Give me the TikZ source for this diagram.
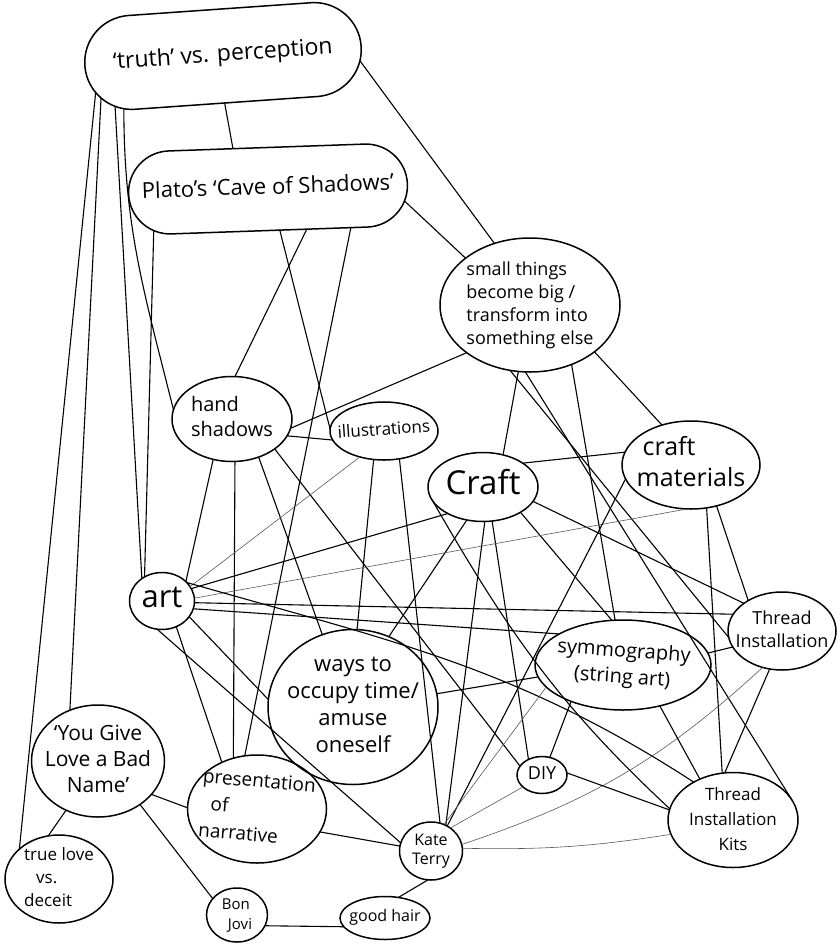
\documentclass[tikz,border=0pt]{standalone}
\usepackage{fontspec}
\setmainfont{Open Sans}
\usepackage{graphicx}
\usetikzlibrary{shapes.geometric,shapes.misc}
\newcommand{\fs}[2]{\fontsize{#1}{#2}\selectfont}
\newcommand{\zt}[3]{\raisebox{\dimexpr-0.5\height+0.5\depth\relax}[0pt][0pt]{\makebox[0pt]{\rotatebox{#1}{\begin{tabular}[b]{@{}#2@{}}#3\end{tabular}}}}}
\tikzset{
  bub/.style={ellipse, draw, line width=1.5pt, inner sep=0pt, outer sep=0pt},
  pill/.style={rounded rectangle, draw, line width=1.5pt, inner sep=0pt, outer sep=0pt},
  ln/.style={line width=1.1pt, black},
  thinln/.style={line width=0.6pt, black!65},
}
\begin{document}
\begin{tikzpicture}[x=1pt,y=1pt]
\fill[white] (0,0) rectangle (837,-945);
\useasboundingbox (0,0) rectangle (837,-945);
% nodes
\node[pill, rotate=4, minimum width=277, minimum height=94, font=\fs{23}{27}] (truth) at (223,-56) {\zt{0}{c}{‘truth’ vs. perception}};
\node[pill, rotate=2, minimum width=279, minimum height=83, font=\fs{22}{26}] (plato) at (268,-189) {\zt{0}{c}{Plato’s ‘Cave of Shadows’}};
\node[bub, minimum width=180, minimum height=134, font=\fs{18}{23}] (small) at (530,-305) {\zt{0}{l}{small things\\become big /\\transform into\\something else}};
\node[bub, minimum width=120, minimum height=85, font=\fs{20}{25}] (hand) at (232,-419) {\zt{0}{l}{hand\\shadows}};
\node[bub, minimum width=108, minimum height=58, font=\fs{17}{20}] (illus) at (384,-431) {\zt{4}{c}{illustrations}};
\node[bub, minimum width=110, minimum height=69, font=\fs{33}{36}] (craft) at (483,-487) {\zt{0}{c}{Craft}};
\node[bub, minimum width=138, minimum height=88, font=\fs{25}{31}] (craftmat) at (691,-465) {\zt{0}{l}{\hspace{6pt}craft\\materials}};
\node[bub, minimum width=65, minimum height=57, font=\fs{31}{34}] (art) at (162,-601) {\zt{0}{c}{art}};
\node[bub, minimum width=108, minimum height=78, font=\fs{18}{23}] (thread) at (782,-631) {\zt{0}{c}{Thread\\Installation}};
\node[bub, minimum width=176, minimum height=90, font=\fs{20}{26}] (symm) at (623,-665) {\zt{-4}{c}{symmography\\(string art)}};
\node[bub, minimum width=170, minimum height=155, font=\fs{22}{27}] (ways) at (353,-707) {\zt{0}{c}{ways to\\occupy time/\\amuse\\oneself}};
\node[bub, minimum width=133, minimum height=112, font=\fs{21}{26}] (ygl) at (98,-761) {\zt{0}{c}{‘You Give\\Love a Bad\\Name’}};
\node[bub, minimum width=139, minimum height=108, font=\fs{19}{27}] (pres) at (257,-809) {\zt{-5}{l}{presentation\\\hspace{10pt}of\\narrative}};
\node[bub, minimum width=50, minimum height=37, font=\fs{18}{20}] (diy) at (542,-775) {\zt{0}{c}{DIY}};
\node[bub, minimum width=63, minimum height=58, font=\fs{16}{19}] (kate) at (431,-851) {\zt{0}{c}{Kate\\Terry}};
\node[bub, minimum width=130, minimum height=95, font=\fs{17}{25}] (tik) at (733,-820) {\zt{0}{c}{Thread\\Installation\\Kits}};
\node[bub, minimum width=108, minimum height=88, font=\fs{17}{23}] (tlove) at (59,-879) {\zt{0}{l}{true love\\\hspace{12pt}vs.\\deceit}};
\node[bub, minimum width=61, minimum height=54, font=\fs{15}{20}] (bonjovi) at (237,-915) {\zt{0}{l}{Bon\\\hspace{6pt}Jovi}};
\node[bub, minimum width=90, minimum height=43, font=\fs{16}{19}] (hair) at (385,-918) {\zt{0}{c}{good hair}};
% connectors
\draw[ln] (truth.268) -- (plato.129);
\draw[ln] (truth.354) -- (small.120);
\draw[ln] (truth.192) -- (tlove.143);
\draw[ln] (truth.195) -- (ygl.119);
\draw[ln] (truth.201) -- (art.132);
\draw[ln] (truth.204) to[out=270,in=104] (hand.171);
\draw[ln] (plato.353) -- (small.144);
\draw[ln] (plato.312) -- (hand.86);
\draw[ln] (plato.284) -- (illus.178);
\draw[ln] (plato.333) -- (pres.103);
\draw[ln] (plato.198) -- (art.126);
\draw[ln] (small.217) -- (hand.351);
\draw[ln] (small.260) -- (craft.58);
\draw[ln] (small.324) -- (craftmat.126);
\draw[ln] (small.253) -- (thread.187);
\draw[ln] (small.266) -- (tik.19);
\draw[ln] (small.305) -- (symm.100);
\draw[ln] (hand.343) -- (illus.190);
\draw[ln] (hand.245) -- (art.39);
\draw[ln] (hand.274) -- (pres.115);
\draw[ln] (hand.305) -- (ways.113);
\draw[ln] (hand.325) -- (diy.158);
\draw[thinln] (illus.227) -- (art.27);
\draw[ln] (illus.250) -- (ways.87);
\draw[ln] (illus.299) -- (kate.72);
\draw[ln] (craft.31) -- (craftmat.169);
\draw[ln] (craft.217) -- (art.23);
\draw[ln] (craft.244) -- (ways.63);
\draw[ln] (craft.273) -- (kate.60);
\draw[ln] (craft.285) -- (diy.131);
\draw[ln] (craft.326) -- (symm.104);
\draw[ln] (craft.344) -- (thread.144);
\draw[ln] (craft.195) to[out=300,in=137] (tik.170);
\draw[thinln] (craftmat.265) -- (art.5);
\draw[ln] (craftmat.192) -- (kate.57);
\draw[ln] (craftmat.302) -- (thread.138);
\draw[ln] (craftmat.290) -- (tik.103);
\draw[ln] (art.357) -- (thread.161);
\draw[ln] (art.346) -- (symm.154);
\draw[ln] (art.37) to[out=344,in=147] (tik.136);
\draw[ln] (art.330) -- (ways.175);
\draw[ln] (art.260) -- (kate.165);
\draw[ln] (art.299) -- (pres.127);
\draw[ln] (thread.198) -- (symm.8);
\draw[ln] (thread.252) -- (tik.100);
\draw[thinln] (kate.12) to[bend right=12] (thread.242);
\draw[ln] (symm.188) -- (ways.9);
\draw[ln] (symm.215) -- (diy.66);
\draw[ln] (symm.312) -- (tik.129);
\draw[thinln] (symm.196) -- (kate.64);
\draw[ln] (diy.5) -- (tik.171);
\draw[thinln] (diy.212) -- (kate.50);
\draw[thinln] (kate.5) to[bend right=5] (tik.193);
\draw[ln] (ygl.237) -- (tlove.104);
\draw[ln] (ygl.328) -- (pres.179);
\draw[ln] (ygl.314) -- (bonjovi.146);
\draw[ln] (pres.340) -- (kate.171);
\draw[ln] (kate.264) -- (hair.57);
\draw[ln] (hair.192) -- (bonjovi.339);
\end{tikzpicture}
\end{document}
